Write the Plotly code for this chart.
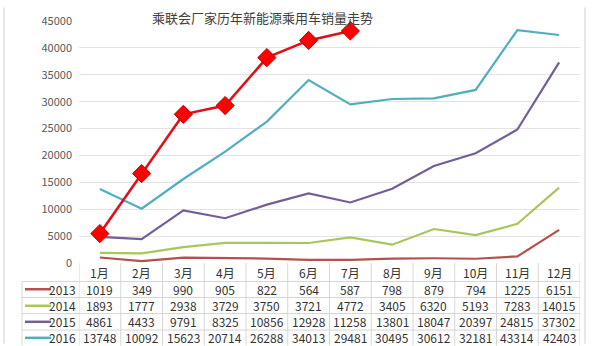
import plotly.graph_objects as go

months = ["1月", "2月", "3月", "4月", "5月", "6月", "7月", "8月", "9月", "10月", "11月", "12月"]
years = ["2013", "2014", "2015", "2016"]
s2013 = [1019, 349, 990, 905, 822, 564, 587, 798, 879, 794, 1225, 6151]
s2014 = [1893, 1777, 2938, 3729, 3750, 3721, 4772, 3405, 6320, 5193, 7283, 14015]
s2015 = [4861, 4433, 9791, 8325, 10856, 12928, 11258, 13801, 18047, 20397, 24815, 37302]
s2016 = [13748, 10092, 15623, 20714, 26288, 34013, 29481, 30495, 30612, 32181, 43314, 42403]
s2017 = [5470, 16630, 27650, 29280, 38190, 41390, 43140]
title = "乘联会厂家历年新能源乘用车销量走势"
yticks = [0, 5000, 10000, 15000, 20000, 25000, 30000, 35000, 40000, 45000]

series = [s2013, s2014, s2015, s2016]
colors = ["#B5504C", "#A8C65C", "#735E97", "#4FAFBE"]

W, H = 600, 346
L, R, T, B = 79, 20, 14, 83
PW, PH = W - L - R, H - T - B
FONT = "Noto Sans CJK SC"


def py(p):
    return (H - B - p) / PH


def pxp(p):
    return (p - L) / PW


fig = go.Figure()
for name, vals, c in zip(years, series, colors):
    fig.add_trace(go.Scatter(x=list(range(len(months))), y=vals, name=name, mode="lines",
                             line=dict(color=c, width=2.2)))
fig.add_trace(go.Scatter(x=list(range(len(s2017))), y=s2017, name="2017", mode="lines+markers",
                         line=dict(color="#E0101A", width=2.6),
                         marker=dict(symbol="diamond", size=14, color="#FF0000",
                                     line=dict(color="#C00000", width=1))))

shapes = []
ann = []
grid = "#D6D6D6"
# outer frame
shapes.append(dict(type="line", xref="paper", yref="paper", x0=pxp(4), x1=pxp(4), y0=py(0), y1=py(H), line=dict(color="#D0D0D0", width=1)))
shapes.append(dict(type="line", xref="paper", yref="paper", x0=pxp(585), x1=pxp(585), y0=py(0), y1=py(H), line=dict(color="#D0D0D0", width=1)))
# table verticals
for k in range(len(months) + 1):
    shapes.append(dict(type="line", xref="x", yref="paper", x0=k - 0.5, x1=k - 0.5, y0=py(263), y1=py(H + 2), line=dict(color=grid, width=1)))
shapes.append(dict(type="line", xref="paper", yref="paper", x0=pxp(22), x1=pxp(22), y0=py(282), y1=py(H + 2), line=dict(color=grid, width=1)))
row_lines = [282, 298.5, 315, 332]
for r in row_lines:
    shapes.append(dict(type="line", xref="paper", yref="paper", x0=pxp(22), x1=1, y0=py(r), y1=py(r), line=dict(color=grid, width=1)))

header_y = 273
row_y = [290, 307, 323.5, 340]
for i, m in enumerate(months):
    ann.append(dict(x=i, y=py(header_y), xref="x", yref="paper", text=m, showarrow=False,
                    font=dict(family=FONT, size=12, color="#333333"), yanchor="middle"))
for name, vals, c, ry in zip(years, series, colors, row_y):
    shapes.append(dict(type="line", xref="paper", yref="paper", x0=pxp(25), x1=pxp(51), y0=py(ry), y1=py(ry), line=dict(color=c, width=2.5)))
    ann.append(dict(x=pxp(78), y=py(ry), xref="paper", yref="paper", text=name, showarrow=False,
                    xanchor="right", yanchor="middle", font=dict(family=FONT, size=12, color="#333333")))
    for i, v in enumerate(vals):
        ann.append(dict(x=i, y=py(ry), xref="x", yref="paper", text=str(v), showarrow=False,
                        yanchor="middle", font=dict(family=FONT, size=12, color="#333333")))

ann.append(dict(x=pxp(262), y=py(-1), xref="paper", yref="paper", text=title, showarrow=False,
                yanchor="top", font=dict(family=FONT, size=13, color="#404040")))

fig.update_layout(
    width=W, height=H, margin=dict(l=L, r=R, t=T, b=B),
    paper_bgcolor="white", plot_bgcolor="white", showlegend=False,
    shapes=shapes, annotations=ann,
    xaxis=dict(range=[-0.5, len(months) - 0.5], showticklabels=False, showgrid=False, zeroline=False, showline=False, ticks=""),
    yaxis=dict(range=[0, 45000], tickvals=yticks, ticktext=[str(t) for t in yticks], showgrid=True, gridcolor="#E3E3E3",
               zeroline=False, ticks="", tickfont=dict(family=FONT, size=11, color="#595959"), ticklabelstandoff=6),
)
fig.write_html("out.html")
